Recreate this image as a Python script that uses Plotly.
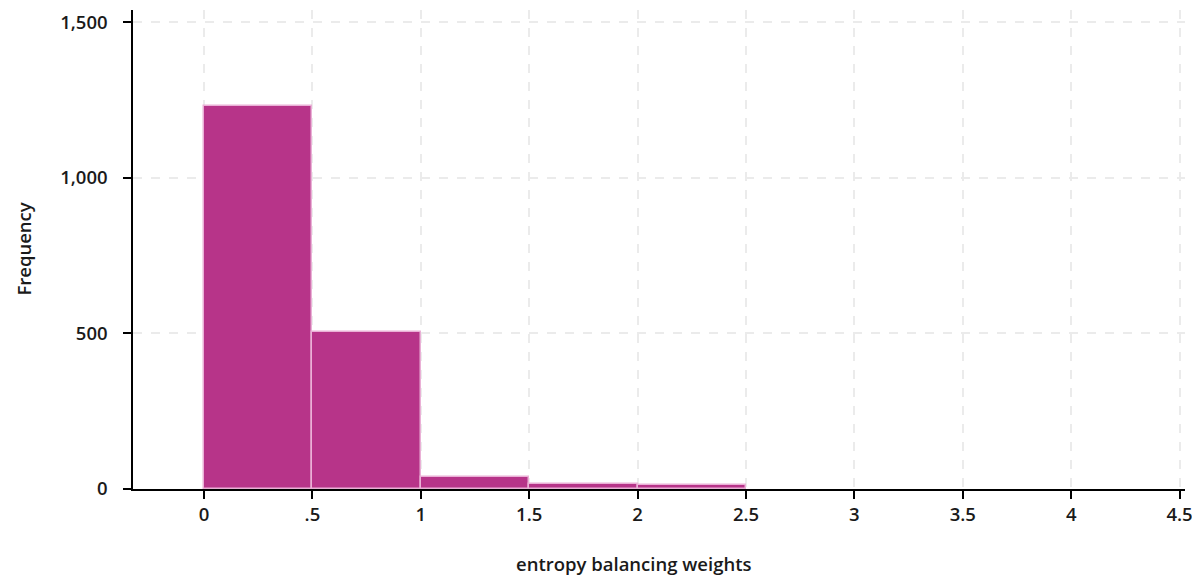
import plotly.graph_objects as go

bin_left = [0.0, 0.5, 1.0, 1.5, 2.0]
bin_width = 0.5
frequency = [1230, 504, 38, 15, 12]
x_ticks = [0, 0.5, 1, 1.5, 2, 2.5, 3, 3.5, 4, 4.5]
x_tick_labels = ["0", ".5", "1", "1.5", "2", "2.5", "3", "3.5", "4", "4.5"]
y_ticks = [0, 500, 1000, 1500]
y_tick_labels = ["0", "500", "1,000", "1,500"]
x_title = "entropy balancing weights"
y_title = "Frequency"

centers = [b + bin_width / 2 for b in bin_left]

fig = go.Figure()
fig.add_trace(go.Bar(
    x=centers, y=frequency, width=[bin_width] * len(centers),
    marker=dict(color="#b73489", line=dict(color="#eab0d6", width=1.5)),
    hoverinfo="x+y",
))

font = dict(family="Open Sans", size=18.5, color="#1a1a1a", weight=600)
# page body has an 8px margin, so the figure is offset by (8, 8)
fig.update_layout(
    width=1192, height=570,
    margin=dict(l=125, r=15, t=2, b=89, autoexpand=False),
    plot_bgcolor="white", paper_bgcolor="white",
    showlegend=False, bargap=0,
    font=font,
)
fig.update_xaxes(
    range=[-0.3275, 4.525], tickvals=x_ticks, ticktext=x_tick_labels,
    showline=True, linecolor="black", linewidth=1.5,
    ticks="outside", ticklen=8, tickwidth=1.5, tickcolor="black",
    showgrid=True, gridcolor="#ebebeb", griddash="dash", gridwidth=1.5,
    zeroline=False, tickfont=font,
)
fig.update_yaxes(
    range=[0, 1540], tickvals=y_ticks, ticktext=y_tick_labels,
    showline=True, linecolor="black", linewidth=1.5,
    ticks="outside", ticklen=8, tickwidth=1.5, tickcolor="black",
    showgrid=True, gridcolor="#ebebeb", griddash="dash", gridwidth=1.5,
    zeroline=False, tickfont=font, ticklabelstandoff=12,
)
fig.add_annotation(
    text=x_title, xref="paper", yref="paper", x=0.476, y=0,
    xanchor="center", yanchor="middle", yshift=-74, showarrow=False, font=font,
)
fig.add_annotation(
    text=y_title, xref="paper", yref="paper", x=-0.1045, y=0.5,
    xanchor="center", yanchor="middle", textangle=-90, showarrow=False, font=font,
)
fig.write_html("out.html")
